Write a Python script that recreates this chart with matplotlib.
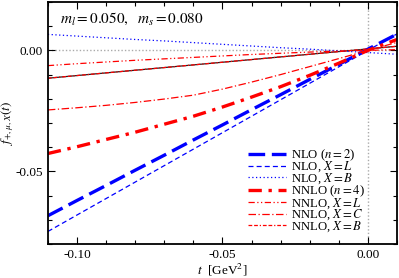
import matplotlib
matplotlib.use('Agg')
import matplotlib.pyplot as plt
from matplotlib.ticker import MultipleLocator

plt.rcParams['font.family'] = ['Liberation Serif', 'DejaVu Serif']
plt.rcParams['mathtext.fontset'] = 'stix'
plt.rcParams['axes.unicode_minus'] = False

# t values (GeV^2) at which the curves were read
t = [-0.11, -0.10, -0.09, -0.08, -0.07, -0.06, -0.05, -0.04, -0.03, -0.02, -0.01, 0.00, 0.01]

nlo_n2 = [-0.0683, -0.0620, -0.0558, -0.0495, -0.0433, -0.0370, -0.0308, -0.0245, -0.0183, -0.0120, -0.0058, 0.0005, 0.0067]
nlo_L = [-0.0748, -0.0680, -0.0612, -0.0544, -0.0476, -0.0408, -0.0340, -0.0272, -0.0204, -0.0136, -0.0068, 0.0000, 0.0068]
nlo_B = [0.0066, 0.0059, 0.0052, 0.0045, 0.0039, 0.0032, 0.0025, 0.0018, 0.0011, 0.0005, -0.0002, -0.0009, -0.0016]
nnlo_n4 = [-0.0426, -0.0398, -0.0368, -0.0338, -0.0305, -0.0272, -0.0234, -0.0193, -0.0150, -0.0103, -0.0053, 0.0000, 0.0045]
nnlo_L = [-0.0063, -0.0055, -0.0048, -0.0041, -0.0035, -0.0029, -0.0023, -0.0017, -0.0012, -0.0007, -0.0003, 0.0000, 0.0003]
nnlo_C = [-0.0246, -0.0237, -0.0227, -0.0215, -0.0201, -0.0185, -0.0160, -0.0131, -0.0100, -0.0067, -0.0034, 0.0000, 0.0033]
nnlo_B = [-0.0115, -0.0104, -0.0093, -0.0082, -0.0071, -0.0060, -0.0049, -0.0038, -0.0027, -0.0016, -0.0005, 0.0006, 0.0017]

fig = plt.figure(figsize=(3.99, 2.78), dpi=100)
ax = fig.add_axes([0.120, 0.122, 0.875, 0.871])

ax.axhline(0, color='#aaaaaa', lw=1, ls=(0, (1, 1.5)), zorder=1)
ax.axvline(0, color='#aaaaaa', lw=1, ls=(0, (1, 1.5)), zorder=1)

blue = '#0000ff'
red = '#ff0000'

ax.plot(t, nnlo_B, color='#222222', lw=0.9, zorder=2)
ax.plot(t, nlo_n2, color=blue, lw=2.4, dashes=(5, 2), label='NLO ($n = 2$)')
ax.plot(t, nlo_L, color=blue, lw=0.9, dashes=(4, 2.5), label='NLO, $X = L$')
ax.plot(t, nlo_B, color=blue, lw=0.9, dashes=(1, 2), label='NLO, $X = B$')
ax.plot(t, nnlo_n4, color=red, lw=2.4, dashes=(4, 2, 1, 2), label='NNLO ($n = 4$)')
ax.plot(t, nnlo_L, color=red, lw=0.9, dashes=(5, 2, 1, 2, 1, 2), label='NNLO, $X = L$')
ax.plot(t, nnlo_C, color=red, lw=0.9, dashes=(6, 2, 1, 2), label='NNLO, $X = C$')
ax.plot(t, nnlo_B, color=red, lw=0.9, dashes=(3, 1.5, 3, 1.5, 1, 1.5), label='NNLO, $X = B$')

ax.set_xlim(-0.11, 0.01)
ax.set_ylim(-0.08, 0.02)
ax.xaxis.set_major_locator(MultipleLocator(0.05))
ax.xaxis.set_minor_locator(MultipleLocator(0.01))
ax.yaxis.set_major_locator(MultipleLocator(0.05))
ax.yaxis.set_minor_locator(MultipleLocator(0.01))
ax.xaxis.set_major_formatter(matplotlib.ticker.FormatStrFormatter('%.2f'))
ax.yaxis.set_major_formatter(matplotlib.ticker.FormatStrFormatter('%.2f'))
ax.tick_params(which='both', direction='in', top=True, right=True, labelsize=9.5, width=0.8)
ax.tick_params(which='major', length=5)
ax.tick_params(which='minor', length=3)
for s in ax.spines.values():
    s.set_linewidth(1.3)

ax.set_xlabel('$t$  [GeV$^2$]', fontsize=9.5, labelpad=1)
ax.set_ylabel('$f_{+,\\mu,X}(t)$', fontsize=9.5, labelpad=0)

ax.text(0.035, 0.93, '$m_l = 0.050,\\ \\ m_s = 0.080$', transform=ax.transAxes,
        fontsize=11, va='center', ha='left')

ax.legend(loc='lower right', bbox_to_anchor=(0.93, 0.01), frameon=False, fontsize=9.2,
          handlelength=3.0, labelspacing=-0.22, handletextpad=0.4, borderaxespad=0.2)

fig.savefig('out.png', dpi=100)
